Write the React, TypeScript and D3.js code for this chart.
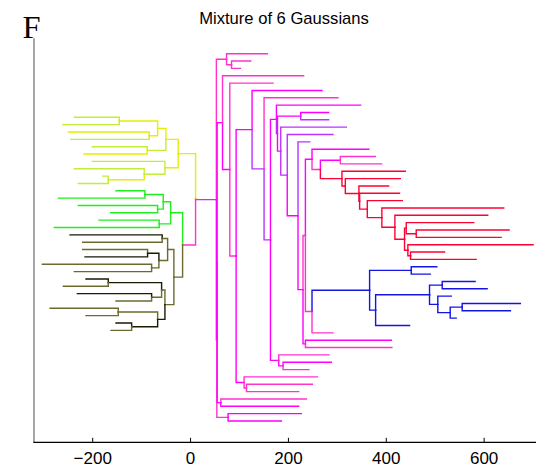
import React from "react";
import * as d3 from "d3";

// internal nodes of the dendrogram (name, parent, position on x)
const branchNames = [
  "root", "L", "K", "Yel", "GB", "Y1", "Y2", "Y1a", "y147", "y119", "y149", "y144", "y108",
  "G", "B", "G1n", "g145", "g157", "g159", "Ba", "Bb", "b162", "b159", "b147", "b151",
  "b161", "b108", "b151b", "b157", "b118", "b131",
  "G1", "G1a", "Q", "Q3", "G2", "n221", "n228", "n230", "n236", "n252", "n244", "n246",
  "n264", "n270", "N1", "N2", "n301", "n281", "n287", "n298", "n303", "R", "Rb",
  "n312a", "n312b", "n320", "n341", "n342", "n345", "X", "Y", "Z", "W", "V", "U",
  "T1", "n416", "T2", "n411", "B1", "n411b", "n376", "n430", "n442", "n438", "n450",
  "n462", "n279", "n283",
];
const branchParents = [
  "", "root", "root", "L", "L", "Yel", "Yel", "Y1", "Y1", "Y1a", "Y1a", "Y2", "y144",
  "GB", "GB", "G", "G1n", "G1n", "G", "B", "B", "Ba", "Ba", "b159", "b159",
  "Bb", "b161", "b161", "Bb", "b157", "b157",
  "K", "G1", "K", "Q", "Q3", "Q3", "Q", "G2", "n230", "n236", "n236", "n244",
  "n252", "n264", "n270", "N1", "N2", "N2", "n281", "n287", "n298", "n303", "n303",
  "R", "R", "n312a", "n320", "n320", "n342", "n345", "X", "Y", "Z", "W", "V",
  "U", "T1", "U", "T2", "n312b", "B1", "B1", "n376", "n430", "n430", "n438",
  "n450", "n270", "n279",
];
const branchValues = [
  11, 10.2, 52.7, -25.3, -16.3, -50.4, -52.4, -67.3, -88.6, -145.7, -84.5, -94.7, -168.2,
  -40.8, -34.1, -55.9, -93.3, -67.3, -64.1, -46.9, -52.4, -58, -64.7, -87.8, -79.6,
  -59.2, -168.2, -79.6, -67.3, -147.8, -120.4,
  73.5, 83.7, 53.7, 54.3, 65.3, 61.8, 76.7, 80.2, 93.1, 125.7, 109.4, 114.3,
  150.2, 163.3, 175.5, 177.6, 225.1, 184.3, 197.6, 219.6, 229.8, 234.7, 234.7,
  248.2, 248.2, 265.3, 306.1, 309.4, 316.3, 344.1, 345.5, 361.2, 391, 417.6, 437.3,
  440.8, 461.2, 444.1, 449.6, 365.9, 451, 378.2, 488.4, 514.3, 505.3, 530.6,
  555.1, 180.2, 189,
];
const branchTones = [
  "m", "y", "v", "y", "p", "y", "y", "y", "yg", "y", "y", "yg", "y",
  "g", "o", "g", "g", "g", "g", "o", "o", "o", "o", "k", "o",
  "o", "k", "o", "k", "o", "k",
  "p", "p", "m", "m", "m", "m", "p", "m", "p", "m", "m", "p",
  "v", "v", "m", "v", "m", "m", "v", "m", "m", "p", "m",
  "m", "p", "p", "m", "r", "r", "r", "r", "r", "r", "r", "r",
  "r", "r", "r", "r", "b", "b", "b", "b", "b", "b", "b",
  "b", "m", "m",
];

// leaves on the right side, top to bottom
const rightLeafValues = [
  157, 123, 102, 231, 168.6, 268.6, 301.2, 347.6, 282.2, 282.2, 318.4, 291, 243.5,
  364.5, 377.6, 390.4, 438.8, 428.6, 404.7, 427.1, 432.7, 640, 607.3, 578.8, 651,
  634.7, 700, 519, 583.7, 503.3, 489.8, 581.6, 606.1, 532.7, 674, 653.7, 542.9,
  447.6, 291, 410.2, 411.4, 282.9, 287.8, 242, 259.2, 249, 221, 236.7, 221, 226.5, 185.7,
];
const rightLeafParents = [
  "G1", "G1a", "G1a", "G2", "n230", "n252", "n264", "N1", "n301", "n301", "n281", "n287", "n298",
  "n312a", "n341", "n341", "n342", "n345", "X", "Y", "Z", "W", "V", "T1", "n416",
  "n416", "T2", "n411", "n411", "n411b", "n411b", "n442", "n442", "n438", "n462", "n462", "n450",
  "n376", "n312b", "Rb", "Rb", "n279", "n283", "n283", "n244", "n246", "n246", "n221", "n221", "n228", "n228",
];
const rightLeafTones = [
  "p", "p", "p", "p", "p", "m", "p", "m", "m", "v", "v", "v", "v",
  "m", "p", "p", "r", "r", "r", "r", "r", "r", "r", "r", "r",
  "r", "r", "r", "r", "b", "b", "b", "b", "b", "b", "b", "b",
  "b", "p", "m", "p", "p", "m", "p", "p", "p", "p", "p", "m", "m", "m",
];

// leaves on the left side, top to bottom
const leftLeafValues = [
  -237.6, -261.2, -249.8, -244.9, -200.8, -217.8, -200.8, -237.6, -179.6, -229.4,
  -152.4, -270.2, -229.4, -163.3, -187.1, -278.4,
  -246.3, -220.4, -220.4, -215.7, -302.9, -237.6, -213.7, -260, -231.4, -152.4,
  -287.1, -213.7, -152.4, -162.7,
];
const leftLeafParents = [
  "y119", "y119", "y149", "y149", "y147", "y147", "Y2", "y144", "y108", "y108",
  "g145", "g145", "g157", "g157", "g159", "g159",
  "b162", "b162", "b147", "b147", "b151", "b151", "b108", "b108", "b151b", "b151b",
  "b118", "b118", "b131", "b131",
];
const leftLeafTones = [
  "yg", "yg", "y", "yg", "yg", "y", "yg", "yg", "yg", "yg",
  "g", "g", "g", "g", "g", "g",
  "k", "o", "o", "k", "o", "o", "k", "o", "k", "o", "o", "o", "k", "o",
];
const leftRowStart = 8.66;

const xTicks = [-200, 0, 200, 400, 600];

const palette: Record<string, string> = {
  y: "#e6ef00",
  yg: "#c2ee3a",
  g: "#1fee1f",
  o: "#6b6b30",
  k: "#1a1a05",
  p: "#ff33cc",
  m: "#ff00ff",
  v: "#bb33ff",
  r: "#ff0033",
  b: "#1414e6",
};

type Row = { id: string; parent: string; value: number; tone: string; row?: number };

export default function App() {
  const width = 536;
  const height = 469;

  const rows: Row[] = [
    ...branchNames.map((id, i) => ({
      id, parent: branchParents[i], value: branchValues[i], tone: branchTones[i],
    })),
    ...rightLeafValues.map((v, i) => ({
      id: "r" + i, parent: rightLeafParents[i], value: v, tone: rightLeafTones[i], row: i,
    })),
    ...leftLeafValues.map((v, i) => ({
      id: "l" + i, parent: leftLeafParents[i], value: v, tone: leftLeafTones[i], row: leftRowStart + i,
    })),
  ];

  const root = d3
    .stratify<Row>()
    .id((d) => d.id)
    .parentId((d) => d.parent || null)(rows);

  const x = d3.scaleLinear().domain([-320, 706]).range([34, 536]);
  const y = d3.scaleLinear().domain([0, 50]).range([53.7, 421]);

  const ypos = new Map<string, number>();
  root.eachAfter((n) => {
    if (!n.children) ypos.set(n.id!, y(n.data.row!));
    else ypos.set(n.id!, d3.mean(n.children, (c) => ypos.get(c.id!)!)!);
  });

  const links = root.links().map((l) => {
    const px = x(l.source.data.value);
    const py = ypos.get(l.source.id!)!;
    const cx = x(l.target.data.value);
    const cy = ypos.get(l.target.id!)!;
    return { d: `M${px},${py}V${cy}H${cx}`, color: palette[l.target.data.tone], key: l.target.id };
  });

  const axisY = 442.3;

  return (
    <svg
      width={width}
      height={height}
      style={{ position: "absolute", left: 0, top: 0, background: "#fff" }}
    >
      <text x={22.5} y={38.3} fontFamily="'Liberation Serif', 'Times New Roman', serif" fontSize={32.5}>
        F
      </text>
      <text
        x={284}
        y={24}
        textAnchor="middle"
        fontFamily="'Liberation Sans', Arial, sans-serif"
        fontSize={16.6}
      >
        Mixture of 6 Gaussians
      </text>
      <g fill="none" strokeWidth={1.4} strokeLinecap="square">
        {links.map((l) => (
          <path key={l.key} d={l.d} stroke={l.color} />
        ))}
      </g>
      <line x1={34} x2={34} y1={38.3} y2={axisY} stroke="#808080" strokeWidth={1.4} />
      <line x1={33.3} x2={536} y1={axisY} y2={axisY} stroke="#000" strokeWidth={1.2} />
      {xTicks.map((t) => (
        <g key={t} transform={`translate(${x(t)},0)`}>
          <line y1={axisY} y2={axisY - 4.5} stroke="#000" strokeWidth={1} />
          <text
            y={464}
            textAnchor="middle"
            fontFamily="'Liberation Sans', Arial, sans-serif"
            fontSize={17}
          >
            {d3.format("")(t).replace("-", "\u2212")}
          </text>
        </g>
      ))}
    </svg>
  );
}
